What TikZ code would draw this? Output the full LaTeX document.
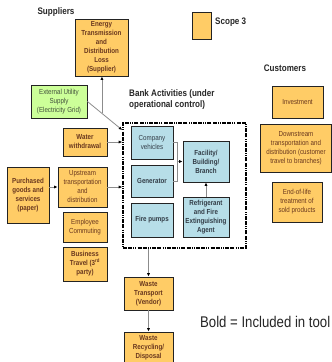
\documentclass[tikz,border=0pt]{standalone}
\usepackage{fontspec}
\newfontfamily\nar[FakeStretch=0.85]{Liberation Sans}
\usetikzlibrary{arrows.meta,calc}
\definecolor{scopeorange}{RGB}{255,204,102}
\definecolor{utilgreen}{RGB}{204,255,153}
\definecolor{opblue}{RGB}{183,222,232}
\definecolor{boxedge}{RGB}{35,35,35}
\definecolor{txtbrown}{RGB}{105,55,30}
\definecolor{txtgreen}{RGB}{65,80,60}
\definecolor{txtblue}{RGB}{50,60,70}
\definecolor{linkgray}{RGB}{140,140,140}
\tikzset{
  box/.style={draw=boxedge, line width=0.9pt, align=center, inner sep=1pt,
    font=\nar\fontsize{7.3}{9}\selectfont},
  boldbox/.style={box, font=\nar\bfseries\fontsize{7.3}{9}\selectfont},
  scopethree/.style={fill=scopeorange, text=txtbrown},
  utility/.style={fill=utilgreen, text=txtgreen},
  operation/.style={fill=opblue, text=txtblue},
  heading/.style={font=\nar\bfseries\fontsize{9.5}{11.5}\selectfont, text=black!85, inner sep=0pt},
  conn/.style={draw=linkgray, line width=0.8pt},
  flow/.style={conn, -{Latex[length=3.5pt,width=3.2pt,color=black]}},
  boundary/.style={draw=black, line width=1.6pt,
    dash pattern=on 4pt off 1.2pt on 4pt off 1.2pt on 1pt off 1pt on 1pt off 1.2pt}
}
\begin{document}
\begin{tikzpicture}[x=1pt,y=-1pt]
\useasboundingbox (0,0) rectangle (332,362);

% headings and legend
\node[heading] (suppliers) at (56,12) {Suppliers};
\node[box, scopethree, minimum width=19pt, minimum height=27pt] (legend) at (201.5,25.5) {};
\node[heading, anchor=west] (legendtext) at (215,22) {Scope 3};
\node[heading] (customers) at (285,68) {Customers};
\node[heading, anchor=north west, align=left] (banktitle) at (129,89)
  {Bank Activities (under\\operational control)};

% suppliers side
\node[boldbox, scopethree, minimum width=53pt, minimum height=57pt] (energy) at (101.5,47.5)
  {Energy\\Transmission\\and\\Distribution\\Loss\\(Supplier)};
\node[box, utility, minimum width=56pt, minimum height=33pt] (ext) at (59,101.5)
  {External Utility\\Supply\\(Electricity Grid)};
\node[boldbox, scopethree, minimum width=44pt, minimum height=28pt] (water) at (85,142)
  {Water\\withdrawal};
\node[boldbox, scopethree, minimum width=42pt, minimum height=56pt] (purchased) at (28,195)
  {Purchased\\goods and\\services\\(paper)};
\node[box, scopethree, minimum width=49pt, minimum height=40pt] (upstream) at (82.5,187)
  {Upstream\\transportation\\and\\distribution};
\node[box, scopethree, minimum width=44pt, minimum height=30pt] (commuting) at (85,227)
  {Employee\\Commuting};
\node[boldbox, scopethree, minimum width=44pt, minimum height=34pt] (travel) at (85,264)
  {Business\\Travel (3\textsuperscript{rd}\\party)};

% operational boundary and its activities
\node[boundary, minimum width=123pt, minimum height=125pt, inner sep=0pt] (bank) at (184.5,185.5) {};
\node[box, operation, minimum width=42pt, minimum height=33pt] (company) at (152,142.5)
  {Company\\vehicles};
\node[boldbox, operation, minimum width=42pt, minimum height=32pt] (generator) at (152,181)
  {Generator};
\node[boldbox, operation, minimum width=42pt, minimum height=34pt] (pumps) at (152,220)
  {Fire pumps};
\node[boldbox, operation, minimum width=46pt, minimum height=41pt] (facility) at (206,161.5)
  {Facility/\\Building/\\Branch};
\node[boldbox, operation, minimum width=46pt, minimum height=40pt] (refrigerant) at (206,217)
  {Refrigerant\\and Fire\\Extinguishing\\Agent};

% waste chain
\node[boldbox, scopethree, minimum width=49pt, minimum height=33pt] (wastetransport) at (148.5,293.5)
  {Waste\\Transport\\(Vendor)};
\node[boldbox, scopethree, minimum width=49pt, minimum height=32pt] (wasterecycling) at (148.5,348)
  {Waste\\Recycling/\\Disposal};

% customers side
\node[box, scopethree, minimum width=51pt, minimum height=32pt] (investment) at (297.5,102)
  {Investment};
\node[box, scopethree, minimum width=71pt, minimum height=48pt] (downstream) at (296,148)
  {Downstream\\transportation and\\distribution (customer\\travel to branches)};
\node[box, scopethree, minimum width=50pt, minimum height=40pt] (endoflife) at (297,202)
  {End-of-life\\treatment of\\sold products};

\node[anchor=west, inner sep=0pt, font=\nar\fontsize{15.5}{18}\selectfont, text=black!85] (note) at (200,322)
  {Bold = Included in tool};

% connectors
\coordinate (bankcorner) at (bank.west |- 0,130);
\draw[flow] (ext.east) -- (bankcorner);
\coordinate (tap) at ($(ext.east)!0.417!(bankcorner)$);
\draw[flow] (tap) -- (tap |- energy.south);
\draw[flow] (water.east) -- (bank.west |- water.east);
\draw[flow] (purchased.east |- upstream.west) -- (upstream.west);
\draw[flow] (upstream.east) -- (bank.west |- upstream.east);
\draw[conn] (company.east) -- ++(4pt,0) coordinate (bracket) |- (generator.east);
\draw[flow] (bracket |- facility.west) -- (facility.west);
\draw[flow] (refrigerant.north) -- (facility.south);
\draw[flow] (wastetransport.north |- bank.south) -- (wastetransport.north);
\draw[flow] (wastetransport.south) -- (wasterecycling.north);
\end{tikzpicture}
\end{document}
